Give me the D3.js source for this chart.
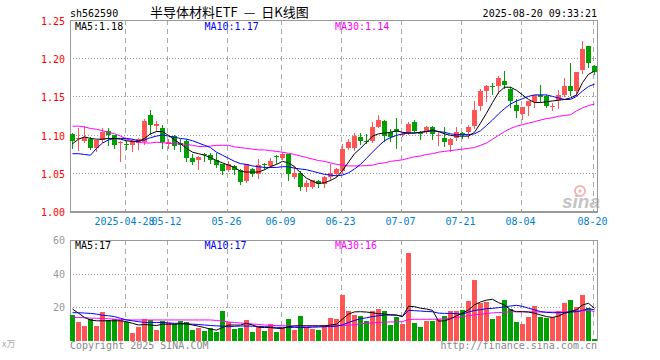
<!DOCTYPE html>
<html><head><meta charset="utf-8">
<script src="https://cdn.jsdelivr.net/npm/d3@7"></script>
<style>
body{margin:0;background:#fff}
svg{display:block}
text{font-family:"DejaVu Sans Mono",monospace;font-size:10px}
</style>
</head><body>
<svg id="c" width="660" height="360"></svg>
<script>
const dates = [
"2025-04-15","2025-04-16","2025-04-17","2025-04-18","2025-04-21","2025-04-22","2025-04-23","2025-04-24","2025-04-25","2025-04-28",
"2025-04-29","2025-04-30","2025-05-06","2025-05-07","2025-05-08","2025-05-09","2025-05-12","2025-05-13","2025-05-14","2025-05-15",
"2025-05-16","2025-05-19","2025-05-20","2025-05-21","2025-05-22","2025-05-23","2025-05-26","2025-05-27","2025-05-28","2025-05-29",
"2025-05-30","2025-06-03","2025-06-04","2025-06-05","2025-06-06","2025-06-09","2025-06-10","2025-06-11","2025-06-12","2025-06-13",
"2025-06-16","2025-06-17","2025-06-18","2025-06-19","2025-06-20","2025-06-23","2025-06-24","2025-06-25","2025-06-26","2025-06-27",
"2025-06-30","2025-07-01","2025-07-02","2025-07-03","2025-07-04","2025-07-07","2025-07-08","2025-07-09","2025-07-10","2025-07-11",
"2025-07-14","2025-07-15","2025-07-16","2025-07-17","2025-07-18","2025-07-21","2025-07-22","2025-07-23","2025-07-24","2025-07-25",
"2025-07-28","2025-07-29","2025-07-30","2025-07-31","2025-08-01","2025-08-04","2025-08-05","2025-08-06","2025-08-07","2025-08-08",
"2025-08-11","2025-08-12","2025-08-13","2025-08-14","2025-08-15","2025-08-18","2025-08-19","2025-08-20"];

const openP = [1.101,1.094,1.092,1.094,1.082,1.093,1.105,1.099,1.089,1.088,
1.087,1.089,1.090,1.126,1.111,1.109,1.088,1.098,1.089,1.092,
1.069,1.067,1.0745,1.073,1.067,1.061,1.0535,1.059,1.0535,1.039,
1.055,1.048,1.061,1.059,1.0715,1.069,1.0743,1.045,1.050,1.031,
1.032,1.039,1.035,1.044,1.048,1.052,1.083,1.083,1.097,1.092,
1.092,1.1106,1.118,1.104,1.1075,1.100,1.102,1.116,1.1025,1.103,
1.110,1.099,1.0956,1.086,1.095,1.1015,1.104,1.111,1.138,1.1567,
1.1642,1.164,1.1707,1.160,1.139,1.1275,1.137,1.1423,1.1515,1.150,
1.1375,1.1458,1.1524,1.164,1.157,1.184,1.2156,1.190];
const highP = [1.102,1.109,1.111,1.097,1.093,1.108,1.108,1.100,1.092,1.092,
1.094,1.095,1.120,1.132,1.118,1.113,1.094,1.099,1.094,1.094,
1.074,1.072,1.0765,1.076,1.076,1.062,1.065,1.060,1.055,1.062,
1.056,1.068,1.063,1.070,1.073,1.0775,1.075,1.059,1.052,1.041,
1.041,1.041,1.046,1.061,1.056,1.0876,1.094,1.1018,1.102,1.101,
1.1164,1.126,1.119,1.1075,1.122,1.103,1.116,1.1195,1.105,1.111,
1.111,1.103,1.1097,1.0956,1.110,1.104,1.113,1.1436,1.1598,1.1654,
1.1676,1.1772,1.1833,1.1624,1.1467,1.1365,1.144,1.1524,1.1655,1.1524,
1.142,1.158,1.1742,1.1938,1.1825,1.2222,1.2165,1.191];
const lowP = [1.082,1.080,1.090,1.081,1.078,1.090,1.086,1.083,1.066,1.081,
1.079,1.081,1.088,1.101,1.105,1.083,1.082,1.081,1.079,1.065,
1.062,1.055,1.0655,1.063,1.057,1.049,1.052,1.049,1.035,1.0376,
1.0456,1.043,1.055,1.057,1.063,1.068,1.040,1.043,1.028,1.026,
1.030,1.031,1.032,1.041,1.046,1.050,1.081,1.0796,1.0876,1.089,
1.0898,1.1097,1.092,1.092,1.082,1.098,1.101,1.103,1.094,1.102,
1.094,1.086,1.085,1.078,1.093,1.0956,1.0956,1.109,1.1327,1.1436,
1.1536,1.1545,1.161,1.136,1.123,1.1205,1.126,1.136,1.1436,1.136,
1.1327,1.135,1.151,1.1524,1.1524,1.180,1.1885,1.1795];
const closeP = [1.092,1.096,1.097,1.082,1.093,1.103,1.100,1.087,1.090,1.087,
1.091,1.094,1.118,1.113,1.114,1.090,1.090,1.085,1.086,1.069,
1.064,1.071,1.0735,1.067,1.060,1.052,1.061,1.0535,1.0376,1.061,
1.048,1.060,1.060,1.066,1.071,1.0743,1.048,1.050,1.031,1.037,
1.040,1.035,1.045,1.050,1.055,1.081,1.090,1.0987,1.092,1.0898,
1.1106,1.1195,1.0987,1.0965,1.103,1.101,1.114,1.105,1.102,1.1106,
1.101,1.100,1.090,1.0948,1.104,1.101,1.1096,1.1327,1.1567,1.164,
1.164,1.174,1.1654,1.1436,1.1305,1.136,1.1436,1.1515,1.149,1.138,
1.138,1.1524,1.164,1.157,1.1816,1.2126,1.194,1.1816];

const volume = [15.5,11,9,13.2,9,17,12.6,13.2,12.2,11,
5,8.6,13.2,12.2,6.6,12,10.6,10.2,11.6,11,
6.6,8,6.2,7.6,5.6,17.6,11,7.2,8,12.6,
5.6,8.6,6,10.2,5.6,8,13.2,6.6,15,8.2,
7.2,6.6,9.6,13.6,13.2,27.2,17.6,15.6,14.6,12,
17.8,19,17.8,9.5,14.5,10,52.5,10.9,8.5,12,
12,13,15,17.8,17.8,18.4,24,36.2,22.8,23.4,
13,14.9,24.4,19,11.5,10,14.5,20.8,14.5,13.5,
14.5,17.8,22.4,24.4,20.4,27.3,19.4,1];

const ma5P = [1.088,1.094,1.097,1.095,1.094,1.094,1.095,1.095,1.094,1.092,
1.091,1.091,1.095,1.101,1.104,1.104,1.099,1.093,1.088,1.082,
1.077,1.075,1.073,1.070,1.066,1.063,1.060,1.057,1.052,1.051,
1.051,1.051,1.054,1.058,1.061,1.065,1.063,1.058,1.050,1.043,
1.039,1.036,1.037,1.040,1.044,1.053,1.064,1.075,1.082,1.090,
1.098,1.101,1.102,1.103,1.105,1.103,1.102,1.102,1.103,1.104,
1.106,1.104,1.101,1.099,1.098,1.098,1.098,1.103,1.115,1.128,
1.142,1.155,1.162,1.162,1.158,1.152,1.146,1.142,1.142,1.143,
1.144,1.145,1.146,1.148,1.152,1.168,1.179,1.183];
const ma10P = [1.075,1.075,1.074,1.073,1.082,1.089,1.093,1.095,1.095,1.095,
1.094,1.092,1.093,1.096,1.098,1.0995,1.098,1.0965,1.095,1.094,
1.092,1.089,1.086,1.083,1.077,1.073,1.069,1.065,1.062,1.061,
1.059,1.058,1.057,1.057,1.057,1.058,1.058,1.056,1.055,1.054,
1.052,1.050,1.048,1.047,1.046,1.047,1.050,1.055,1.061,1.069,
1.077,1.085,1.092,1.096,1.099,1.101,1.102,1.102,1.103,1.104,
1.105,1.104,1.103,1.101,1.100,1.100,1.100,1.101,1.105,1.112,
1.119,1.127,1.134,1.140,1.144,1.147,1.150,1.152,1.152,1.152,
1.150,1.148,1.146,1.146,1.150,1.157,1.163,1.166];
const ma30P = [1.111,1.111,1.110,1.108,1.107,1.105,1.103,1.101,1.098,1.094,
1.092,1.090,1.089,1.089,1.090,1.0895,1.0885,1.088,1.088,1.087,
1.086,1.0845,1.0845,1.085,1.086,1.086,1.086,1.084,1.083,1.082,
1.081,1.080,1.080,1.079,1.078,1.077,1.0755,1.074,1.072,1.070,
1.068,1.066,1.065,1.063,1.061,1.060,1.059,1.059,1.059,1.0595,
1.060,1.062,1.063,1.065,1.066,1.067,1.069,1.071,1.072,1.074,
1.075,1.077,1.078,1.079,1.080,1.081,1.082,1.083,1.086,1.089,
1.094,1.099,1.104,1.108,1.111,1.113,1.115,1.117,1.119,1.121,
1.122,1.124,1.125,1.126,1.131,1.135,1.138,1.140];

const ma5V = [19,16.5,14,12.5,12,12,12,12,12,11.5,
10.5,9.5,9.8,9.5,9.2,10,10,10,10.2,10.2,
9.5,8.8,8,7,6.5,8,9.5,9.5,9.5,10.5,
9.5,8.2,8,8,7.5,7.5,8.5,9,9,9,
9,9,9,9.5,10,13,16,17.3,17.4,17.2,
16.8,16.2,16,15.6,15.4,14.6,20.6,20.4,19.5,19,
18.2,11.8,12,13.2,15,16.5,18.5,21.5,23.2,24.3,
24.8,22.8,21.4,18.5,17.4,17.4,17.2,16.5,15.5,14.5,
14,14.8,16.5,17.5,18.5,21.4,22.4,19.4];
const ma10V = [16.8,16.8,16.6,16.4,16,15.3,15,14.5,13.5,12.5,
12,11.5,11,11,11,11,10.8,10.5,10.5,10.2,
10,9.8,9.5,9.2,9,8.8,8.5,8.7,8.9,8.9,
8.8,8.6,8.5,8.3,8.1,8.1,8.1,8.1,8,8,
8.2,8.3,8.5,8.6,8.9,9.5,11,12.2,13.2,13.8,
14.5,15,15.4,15.4,15.4,14.6,18.2,18,17.8,17.5,
17.4,16.6,16.4,16.4,16.2,16,17.2,18.2,18.6,19.2,
19.4,19.8,20.3,20.8,21.2,20.6,19.5,18.5,17.5,17,
16.8,16.8,16.9,17.2,17.4,18.2,19.2,18.5];
const ma30V = [14,14,13.8,13.6,13.5,13.4,13.2,13,12.8,12.6,
12.5,12.5,12.5,12.5,12.5,12.5,12.5,12.5,12.5,12.5,
12.5,12.5,12.5,12.5,12.2,11.8,11.3,11,10.7,10.4,
10.1,9.8,9.5,9.3,9.2,9.1,9,8.9,8.9,8.9,
8.9,8.9,8.9,8.9,9,9.2,9.4,9.7,10.2,10.5,
10.8,11,11.2,11.3,11.4,11.5,12.8,12.9,12.9,12.9,
12.9,13,13.3,13.6,14,14.5,15,15.5,15.9,16.3,
16.7,16.9,17.1,17.3,17.4,17.4,17.3,17.3,17.2,17.2,
17.2,17.2,17.3,17.4,17.5,17.9,18.4,17.4];

const priceTicks = [1.00,1.05,1.10,1.15,1.20,1.25];
const volTicks = [20,40,60];
const tickDates = ["2025-04-28","2025-05-12","2025-05-26","2025-06-09","2025-06-23","2025-07-07","2025-07-21","2025-08-04","2025-08-20"];
const tickLabels = ["2025-04-28","05-12","05-26","06-09","06-23","07-07","07-21","08-04","08-20"];
const legendPrice = ["MA5:1.18","MA10:1.17","MA30:1.14"];
const legendVol = ["MA5:17","MA10:17","MA30:16"];

const RED = "#ff5555", GREEN = "#00a000";
const maColors = ["#000000","#0000ff","#ff00ff"];

const svg = d3.select("#c");
const L = 70, R = 597, PT = 20, PB = 211, VT = 240, VB = 341;

const x = d3.scaleBand().domain(d3.range(dates.length)).range([69.5, 597.5]).paddingInner(1/6).paddingOuter(1/12);
const cx = i => x(i) + x.bandwidth() / 2;
const yP = d3.scaleLinear().domain([1.00, 1.25]).range([PB, PT]);
const yV = d3.scaleLinear().domain([0, 60]).range([VB, VT]);

// header
svg.append("text").attr("x", 70).attr("y", 17).attr("fill", "#000").text("sh562590");
const title = svg.append("text").attr("x", 150).attr("y", 17)
  .style("font-family", '"Noto Sans CJK SC", sans-serif').style("font-size", "13px").attr("fill", "#000");
title.append("tspan").text("半导体材料ETF");
title.append("tspan").attr("dx", 6).text("—");
title.append("tspan").attr("dx", 6).text("日K线图");
svg.append("text").attr("x", 597).attr("y", 17).attr("text-anchor", "end").attr("fill", "#000").text("2025-08-20 09:33:21");

// gridlines
const tickIdx = tickDates.map(d => dates.indexOf(d));
const gxPos = i => Math.round(cx(i) - 2) + 0.5;
const grid = svg.append("g").attr("stroke", "#aaa").attr("stroke-width", 1).attr("shape-rendering", "crispEdges");
[[PT, PB], [VT, VB]].forEach(([a, b]) => {
  grid.selectAll(null).data(tickIdx).enter().append("line")
    .attr("x1", gxPos).attr("x2", gxPos).attr("y1", a).attr("y2", b)
    .attr("stroke-dasharray", "5,4");
});
grid.selectAll(null).data(priceTicks.filter(t => t > 1.0 && t < 1.25)).enter().append("line")
  .attr("x1", L).attr("x2", R).attr("y1", d => Math.round(yP(d)) + 0.5).attr("y2", d => Math.round(yP(d)) + 0.5)
  .attr("stroke-dasharray", "1,2").attr("stroke", "#999");
grid.selectAll(null).data(volTicks.filter(t => t < 60)).enter().append("line")
  .attr("x1", L).attr("x2", R).attr("y1", d => Math.round(yV(d)) + 0.5).attr("y2", d => Math.round(yV(d)) + 0.5)
  .attr("stroke-dasharray", "1,2").attr("stroke", "#999");

// watermark
const wm = svg.append("g");
wm.append("circle").attr("cx", 580).attr("cy", 191).attr("r", 5).attr("fill", "none").attr("stroke", "#f3b3b3").attr("stroke-width", 2);
wm.append("circle").attr("cx", 580).attr("cy", 191).attr("r", 1.5).attr("fill", "#f3b3b3");
wm.append("text").attr("x", 562).attr("y", 208).style("font-family", "Arial, 'Liberation Sans', sans-serif")
  .style("font-size", "19px").style("font-style", "italic").style("font-weight", "bold").attr("fill", "#c4c4c4").text("sina");

// frames
const fr = svg.append("g").attr("stroke", "#999").attr("shape-rendering", "crispEdges").attr("fill", "none");
fr.append("path").attr("d", `M${L+0.5},${PB} V${PT+0.5} H${R+0.5} V${PB}`);
fr.append("line").attr("x1", L).attr("x2", R + 1).attr("y1", PB + 0.5).attr("y2", PB + 0.5).attr("stroke-width", 2);
fr.append("path").attr("d", `M${L+0.5},${VB} V${VT+0.5} H${R+0.5} V${VB}`);

// candles
const cg = svg.append("g").attr("shape-rendering", "crispEdges");
const idx = d3.range(dates.length);
const col = i => closeP[i] >= openP[i] ? RED : GREEN;
cg.selectAll(".wick").data(idx).enter().append("line")
  .attr("x1", i => Math.floor(cx(i)) + 0.5).attr("x2", i => Math.floor(cx(i)) + 0.5)
  .attr("y1", i => Math.round(yP(highP[i]))).attr("y2", i => Math.round(yP(lowP[i])) + 1)
  .attr("stroke", col);
cg.selectAll(".body").data(idx).enter().append("rect")
  .attr("x", i => x(i)).attr("width", x.bandwidth())
  .attr("y", i => Math.round(yP(Math.max(openP[i], closeP[i]))))
  .attr("height", i => Math.max(1, Math.round(yP(Math.min(openP[i], closeP[i]))) - Math.round(yP(Math.max(openP[i], closeP[i])))))
  .attr("fill", col);

// volume bars
cg.selectAll(".vol").data(idx).enter().append("rect")
  .attr("x", i => x(i)).attr("width", x.bandwidth())
  .attr("y", i => Math.round(yV(volume[i])))
  .attr("height", i => VB - Math.round(yV(volume[i])))
  .attr("fill", col);

// MA lines
const lineP = arr => d3.line().x((d, i) => cx(i)).y(d => yP(d))(arr);
const lineV = arr => d3.line().x((d, i) => cx(i)).y(d => yV(d))(arr);
[ma30P, ma10P, ma5P].forEach((a, k) => svg.append("path").attr("d", lineP(a)).attr("fill", "none").attr("stroke", maColors[2 - k]).attr("stroke-width", 1));
[ma30V, ma10V, ma5V].forEach((a, k) => svg.append("path").attr("d", lineV(a)).attr("fill", "none").attr("stroke", maColors[2 - k]).attr("stroke-width", 1));

// axes
const ay = svg.append("g").attr("transform", `translate(${L},0)`)
  .call(d3.axisLeft(yP).tickValues(priceTicks).tickFormat(d3.format(".2f")).tickSize(0).tickPadding(5));
ay.select(".domain").remove();
ay.selectAll("text").attr("fill", "#ff0000").attr("dy", "0.45em").style("font-family", '"DejaVu Sans Mono",monospace').style("font-size", "10px");

const av = svg.append("g").attr("transform", `translate(${L},0)`)
  .call(d3.axisLeft(yV).tickValues(volTicks).tickSize(0).tickPadding(5));
av.select(".domain").remove();
av.selectAll("text").attr("fill", "#999").attr("dy", "0.35em").style("font-family", '"DejaVu Sans Mono",monospace').style("font-size", "10px");

const ax = svg.append("g").attr("transform", `translate(-2,${PB})`)
  .call(d3.axisBottom(x).tickValues(tickIdx).tickFormat((d, k) => tickLabels[k]).tickSize(0).tickPadding(7));
ax.select(".domain").remove();
ax.selectAll("text").attr("fill", "#0080cc").style("font-family", '"DejaVu Sans Mono",monospace').style("font-size", "10px");

// legends
const legX = [75, 204.5, 335];
legendPrice.forEach((t, k) => svg.append("text").attr("x", legX[k]).attr("y", 30).attr("fill", maColors[k]).text(t));
legendVol.forEach((t, k) => svg.append("text").attr("x", legX[k]).attr("y", 249).attr("fill", maColors[k]).text(t));

// footer
svg.append("text").attr("x", 2).attr("y", 347).attr("fill", "#aaa").style("font-family", '"Noto Sans CJK SC", sans-serif').style("font-size", "9px").text("x万");
svg.append("text").attr("x", 70).attr("y", 349).attr("fill", "#888").text("Copyright 2025 SINA.COM");
svg.append("text").attr("x", 597).attr("y", 349).attr("text-anchor", "end").attr("fill", "#888").text("http://finance.sina.com.cn");
</script>
</body></html>
